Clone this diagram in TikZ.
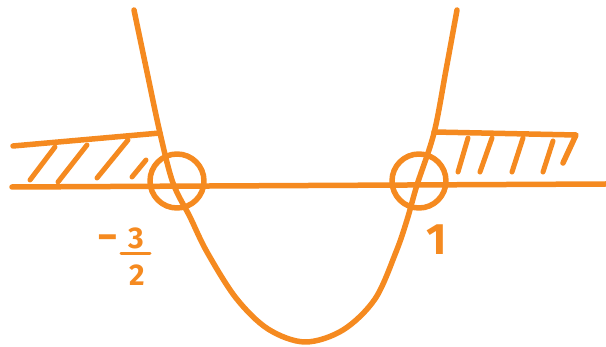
\documentclass[tikz,border=0pt]{standalone}
\usepackage{fontspec}
\setmainfont{Fira Sans}
\definecolor{pen}{RGB}{245,138,32}
\begin{document}
\begin{tikzpicture}[x=1pt,y=-1pt,
  ink/.style={draw=pen,line width=5.5pt,line cap=round,line join=round},
  hatch/.style={draw=pen,line width=5pt,line cap=round},
  lbl/.style={text=pen,font=\bfseries\fontsize{30}{30}\selectfont,inner sep=0pt}]
\useasboundingbox (0,0) rectangle (606,347);
% axis
\coordinate (axL) at (12,187);
\coordinate (axR) at (606,184);
\draw[ink] (axL) -- (axR);
% parabola
\draw[ink] plot[smooth,tension=0.55] coordinates {(134,10) (147,72) (160,133) (173,183) (190,217) (207,252) (236,298) (268,329) (305,342) (343,330) (375,299) (396,252) (407,220) (417,185) (434,133) (446,70) (457,10)};
% left shaded region
\coordinate (lt1) at (13,146);
\coordinate (lt2) at (160,133);
\draw[ink] (lt1) -- (lt2);
\draw[hatch] (30,180) -- (55,147);
\draw[hatch] (58,182) -- (87,145);
\draw[hatch] (97,178) -- (128,140);
\draw[hatch] (132,177) -- (146,160);
% right shaded region
\coordinate (rt1) at (434,132);
\coordinate (rt2) at (576,135);
\coordinate (rt3) at (563,163);
\draw[ink] (rt1) -- (rt2) -- (rt3);
\draw[hatch] (458,172) -- (468,138);
\draw[hatch] (480,172) -- (492,138);
\draw[hatch] (512,172) -- (523,138);
\draw[hatch] (543,172) -- (553,141);
% open circles
\node[ink,circle,minimum size=54pt,inner sep=0pt] (cL) at (177,181) {};
\node[ink,circle,minimum size=54pt,inner sep=0pt] (cR) at (419,181) {};
% labels
\node[lbl,font=\bfseries\fontsize{40}{40}\selectfont] (minus) at (108,243) {−};
\node[lbl] (three) at (136,238) {3};
\node[lbl] (two) at (137,275) {2};
\draw[draw=pen,line width=3pt,line cap=round] (121,254) -- (150,254);
\node[lbl,font=\bfseries\fontsize{44}{44}\selectfont] (one) at (437,240) {1};
\end{tikzpicture}
\end{document}
